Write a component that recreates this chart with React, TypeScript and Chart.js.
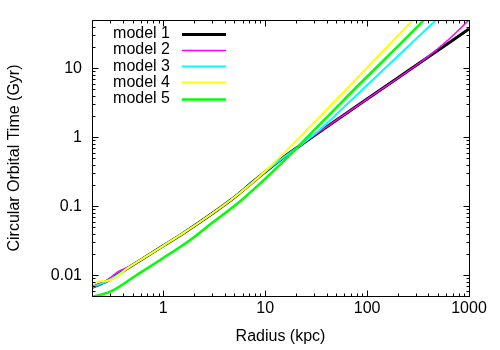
import { useEffect, useRef } from "react";
import { Chart, registerables } from "chart.js";

Chart.register(...registerables);

const seriesLabels = ["model 1", "model 2", "model 3", "model 4", "model 5"];
const seriesColors = ["#000000", "#ff00ff", "#00ffff", "#ffff00", "#00ff00"];
const seriesWidths = [3, 1.5, 2, 2, 2.5];

const model1Radius = [0.2, 0.281, 0.475, 1, 1.64, 4.54, 7.98, 14.0, 22.0, 100, 316, 1000];
const model1Time = [0.00668, 0.00824, 0.0134, 0.0267, 0.0424, 0.121, 0.24, 0.468, 0.759, 3.58, 11.5, 37.1];

const model2Radius = [0.2, 0.281, 0.36, 0.475, 1, 1.64, 4.54, 7.98, 14.0, 22.0, 100, 331, 582, 1000];
const model2Time = [0.0068, 0.0085, 0.0113, 0.0136, 0.0267, 0.0424, 0.121, 0.24, 0.468, 0.759, 3.58, 12.1, 23.5, 50];

const model3Radius = [0.2, 0.281, 0.475, 1, 1.64, 4.54, 7.98, 14.0, 22.0, 34.6, 68.1, 475, 651];
const model3Time = [0.00668, 0.00824, 0.0134, 0.0267, 0.0424, 0.121, 0.24, 0.468, 0.76, 1.29, 3.33, 50, 77.6];

const model4Radius = [0.2, 0.232, 0.281, 0.475, 1, 1.64, 4.54, 7.13, 10, 14.0, 282, 415];
const model4Time = [0.0072, 0.0081, 0.00824, 0.0134, 0.0267, 0.0424, 0.121, 0.206, 0.324, 0.518, 50, 89.8];

const model5Radius = [0.2, 0.302, 0.55, 1, 1.84, 3.09, 5.69, 14.0, 22.0, 58.2, 362, 520];
const model5Time = [0.00484, 0.00577, 0.0101, 0.0178, 0.0324, 0.059, 0.118, 0.4, 0.78, 3.4, 50, 87.5];

const seriesRadius = [model1Radius, model2Radius, model3Radius, model4Radius, model5Radius];
const seriesTime = [model1Time, model2Time, model3Time, model4Time, model5Time];

const xTickValues = [1, 10, 100, 1000];
const yTickValues = [0.01, 0.1, 1, 10];
const xRange = [0.2, 1000];
const yRange = [0.005, 50];

const FONT = { family: '"Liberation Sans", Arial, sans-serif', size: 16 };

function minorValues(min: number, max: number) {
  const out: { v: number; major: boolean }[] = [];
  const e0 = Math.floor(Math.log10(min)) - 1;
  const e1 = Math.ceil(Math.log10(max)) + 1;
  for (let e = e0; e <= e1; e++) {
    for (let m = 1; m <= 9; m++) {
      const v = m * Math.pow(10, e);
      if (v >= min * 0.9999 && v <= max * 1.0001) out.push({ v, major: m === 1 });
    }
  }
  return out;
}

const framePlugin = {
  id: "gnuframe",
  afterDraw(chart: any) {
    const { ctx, chartArea: a, scales } = chart;
    const xs = scales.x;
    const ys = scales.y;
    const L = Math.floor(a.left) + 0.5;
    const R = Math.floor(a.right) + 0.5;
    const T = Math.floor(a.top) + 0.5;
    const B = Math.floor(a.bottom) + 0.5;
    ctx.save();
    ctx.strokeStyle = "#000";
    ctx.lineWidth = 1;
    ctx.beginPath();
    ctx.rect(L, T, R - L, B - T);
    ctx.stroke();
    ctx.beginPath();
    for (const t of minorValues(xRange[0], xRange[1])) {
      const px = Math.round(xs.getPixelForValue(t.v)) + 0.5;
      const len = t.major ? 6 : 3;
      ctx.moveTo(px, B);
      ctx.lineTo(px, B - len);
      ctx.moveTo(px, T);
      ctx.lineTo(px, T + len);
    }
    for (const t of minorValues(yRange[0], yRange[1])) {
      const py = Math.round(ys.getPixelForValue(t.v)) + 0.5;
      const len = t.major ? 6 : 3;
      ctx.moveTo(L, py);
      ctx.lineTo(L + len, py);
      ctx.moveTo(R, py);
      ctx.lineTo(R - len, py);
    }
    ctx.stroke();

    // legend
    ctx.font = `${FONT.size}px ${FONT.family}`;
    ctx.textAlign = "right";
    ctx.textBaseline = "middle";
    ctx.fillStyle = "#000";
    chart.data.datasets.forEach((ds: any, i: number) => {
      const y = a.top + 13.5 + i * 16.3;
      ctx.fillText(ds.label, a.left + 78, y);
      ctx.strokeStyle = ds.borderColor;
      ctx.lineWidth = ds.borderWidth;
      ctx.beginPath();
      ctx.moveTo(a.left + 90, Math.round(y) + 0.5);
      ctx.lineTo(a.left + 134, Math.round(y) + 0.5);
      ctx.stroke();
    });
    ctx.restore();
  },
};

export default function App() {
  const ref = useRef<HTMLCanvasElement | null>(null);
  useEffect(() => {
    document.body.style.margin = "0";
    const canvas = ref.current;
    if (!canvas) return;
    const datasets = seriesLabels.map((label, i) => ({
      label,
      data: seriesRadius[i].map((r, j) => ({ x: r, y: seriesTime[i][j] })),
      borderColor: seriesColors[i],
      backgroundColor: seriesColors[i],
      borderWidth: seriesWidths[i],
      pointRadius: 0,
      fill: false,
      cubicInterpolationMode: "monotone" as const,
      order: seriesLabels.length - 1 - i,
    }));
    const chart = new Chart(canvas, {
      type: "line",
      data: { datasets },
      options: {
        responsive: false,
        animation: false,
        devicePixelRatio: 1,
        layout: { padding: { top: 20, right: 31, left: 0, bottom: 0 } },
        plugins: { legend: { display: false }, tooltip: { enabled: false } },
        scales: {
          x: {
            type: "logarithmic",
            position: "bottom",
            min: xRange[0],
            max: xRange[1],
            grid: { display: false, drawTicks: false },
            border: { display: false },
            afterBuildTicks: (axis: any) => {
              axis.ticks = xTickValues.map((v) => ({ value: v }));
            },
            afterFit: (axis: any) => {
              axis.height = 54;
            },
            ticks: {
              autoSkip: false,
              maxRotation: 0,
              padding: 3,
              color: "#000",
              font: FONT,
              callback: (v: any) => String(v),
            },
            title: {
              display: true,
              text: "Radius (kpc)",
              color: "#000",
              font: FONT,
              padding: { top: 4, bottom: 4 },
            },
          },
          y: {
            type: "logarithmic",
            position: "left",
            min: yRange[0],
            max: yRange[1],
            grid: { display: false, drawTicks: false },
            border: { display: false },
            afterBuildTicks: (axis: any) => {
              axis.ticks = yTickValues.map((v) => ({ value: v }));
            },
            afterFit: (axis: any) => {
              axis.width = 92;
            },
            ticks: {
              autoSkip: false,
              padding: 10,
              color: "#000",
              font: FONT,
              callback: (v: any) => String(v),
            },
            title: {
              display: true,
              text: "Circular Orbital Time (Gyr)",
              color: "#000",
              font: FONT,
              padding: { top: 5, bottom: 4 },
            },
          },
        },
      },
      plugins: [framePlugin],
    });
    return () => chart.destroy();
  }, []);
  return (
    <div style={{ width: 500, height: 350 }}>
      <canvas ref={ref} width={500} height={350} style={{ display: "block" }} />
    </div>
  );
}
